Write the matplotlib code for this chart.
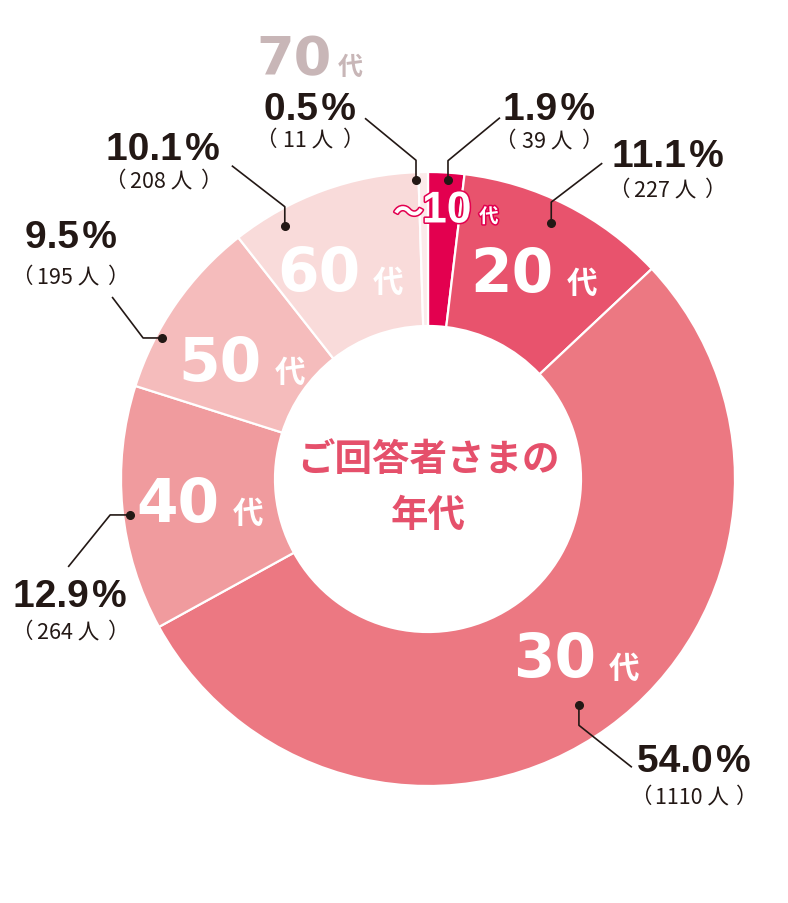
import matplotlib
matplotlib.use('Agg')
import matplotlib.pyplot as plt
import matplotlib.patheffects as pe
import numpy as np

# data
ages = ['～10', '20', '30', '40', '50', '60', '70']
shares = [1.9, 11.1, 54.0, 12.9, 9.5, 10.1, 0.5]
counts = [39, 227, 1110, 264, 195, 208, 11]
colors = ['#E3004F', '#E8536D', '#EC7882', '#F09B9E', '#F5BCBC', '#F9DBDA', '#FCEAEA']
center_title = ['ご回答者さまの', '年代']

W, H = 788, 904
CX, CY = 428, 480          # pixel coords, y grows downwards
R_OUT, R_IN = 307, 153
INK = '#231815'
PINK = '#E5506B'
JP = ['Noto Sans CJK JP', 'DejaVu Sans']
NUM = ['Liberation Sans', 'DejaVu Sans']
HAIR = '\u200a'

# leader layout: dot nudge (deg), dot radius, elbow offset, end offset, pct (x, baseline), count (x, y)
leaders = [
    (0.4, 300, (0, -19), (52, -43), (549, 120), (549, 141)),
    (-1.1, 284, (0, -21), (51, -39), (668, 167), (667, 190)),
    (2.3, 272, (0, 20), (53, 42), (694, 772), (694, 797)),
    (-1.3, 300, (-20, 0), (-42, 52), (70, 607), (70, 632)),
    (-6.8, 301, (-19, 0), (-31, -41), (71, 248), (70, 277)),
    (-9.5, 291, (0, -19), (-53, -41), (163, 160), (163, 181)),
    (-1.4, 299, (0, -20), (-51, -42), (310, 120), (310, 140)),
]
# nudges for the white labels inside the ring
inner_nudge = {1: (0, -2), 2: (11, -8), 3: (-1, 1), 4: (1, 13), 5: (-11, 8)}


def P(x, y):
    return x, H - y


def polar(theta, r):
    t = np.radians(theta)
    return CX + r * np.sin(t), CY - r * np.cos(t)


fig = plt.figure(figsize=(W / 100, H / 100), dpi=100)
ax = fig.add_axes([0, 0, 1, 1])
ax.pie(shares, radius=R_OUT, center=P(CX, CY), startangle=90, counterclock=False,
       colors=colors, wedgeprops=dict(width=R_OUT - R_IN, edgecolor='white', linewidth=1.6))
ax.set_xlim(0, W)
ax.set_ylim(0, H)
ax.set_aspect('equal')
ax.axis('off')

vals = np.array(shares)
mids = (np.cumsum(vals) - vals / 2) * 3.6

# outer labels with leader lines
for i, (nudge, rd, elb, end, ppos, cpos) in enumerate(leaders):
    dx, dy = polar(mids[i] + nudge, rd)
    ex, ey = dx + elb[0], dy + elb[1]
    tx, ty = ex + end[0], ey + end[1]
    xs, ys = zip(P(dx, dy), P(ex, ey), P(tx, ty))
    ax.plot(xs, ys, color=INK, lw=1.2, solid_capstyle='butt', zorder=5)
    ax.plot(*P(dx, dy), 'o', color=INK, ms=5.5, zorder=6)
    pct = f'{shares[i]:.1f}' + HAIR + '%'
    ax.text(*P(*ppos), pct, ha='center', va='baseline',
            fontsize=28, fontweight='bold', family=NUM, color=INK)
    # count in brackets, brackets spread out like the original
    half = 30 + 4.5 * len(str(counts[i]))
    cx_, cy_ = cpos
    ax.text(*P(cx_ - 2, cy_), f'{counts[i]} 人', ha='center', va='center',
            fontsize=15.5, family=JP, color=INK)
    ax.text(*P(cx_ - half - 5, cy_), '（', ha='center', va='center',
            fontsize=15.5, family=JP, color=INK)
    ax.text(*P(cx_ + half + 5, cy_), '）', ha='center', va='center',
            fontsize=15.5, family=JP, color=INK)

# white age labels inside the ring
for i in range(1, 6):
    ax_, ay_ = polar(mids[i], 230)
    nx, ny = inner_nudge[i]
    ax_, ay_ = ax_ + nx, ay_ + ny
    ax.text(*P(ax_ - 20, ay_ + 19), ages[i], ha='center', va='baseline',
            fontsize=43, fontweight='bold', family='DejaVu Sans', color='white')
    ax.text(*P(ax_ + 50, ay_ + 20), '代', ha='center', va='baseline',
            fontsize=22, fontweight='bold', family=JP, color='white')

# ~10 label, white with crimson outline
outline = [pe.Stroke(linewidth=2.2, foreground=colors[0]), pe.Normal()]
bx, by = polar(mids[0], 265)
ax.text(*P(bx - 20, by + 8), ages[0][0], ha='right', va='baseline', fontsize=22,
        fontweight='bold', family=JP, color='white', path_effects=outline)
ax.text(*P(bx + 3, by + 8), ages[0][1:], ha='center', va='baseline', fontsize=32,
        fontweight='bold', family='Liberation Sans', color='white', path_effects=outline)
ax.text(*P(bx + 45, by + 8), '代', ha='center', va='baseline', fontsize=14,
        fontweight='bold', family=JP, color='white', path_effects=outline)

# 70 label above its percentage
ax.text(*P(294, 75), ages[6], ha='center', va='baseline', fontsize=39,
        fontweight='bold', family='DejaVu Sans', color='#C8B6B7')
ax.text(*P(350, 75), '代', ha='center', va='baseline', fontsize=18,
        fontweight='bold', family=JP, color='#C8B6B7')

# centre title
ax.text(*P(CX, 460), center_title[0], ha='center', va='center', fontsize=27,
        fontweight='bold', family=JP, color=PINK)
ax.text(*P(CX, 515), center_title[1], ha='center', va='center', fontsize=27,
        fontweight='bold', family=JP, color=PINK)

fig.savefig('out.png', dpi=100)
